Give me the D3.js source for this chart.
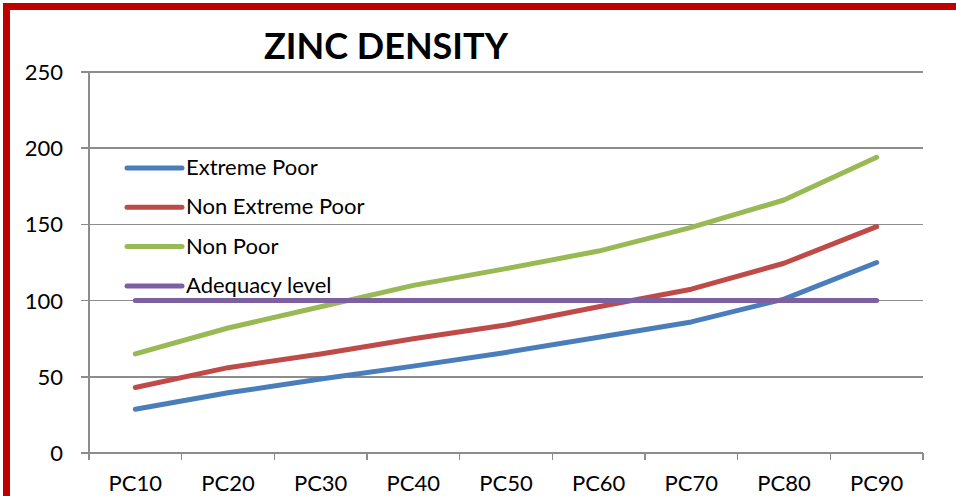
<!DOCTYPE html>
<html>
<head>
<meta charset="utf-8">
<title>Zinc Density</title>
<script src="https://cdn.jsdelivr.net/npm/d3@7"></script>
<style>
    body {
        margin: 0;
        background-color: #fff;
    }

    svg {
        display: block;
        font-family: Lato, "Open Sans", sans-serif;
    }

    .grid line {
        stroke: #8c8c8c;
        stroke-width: 1.5px;
        shape-rendering: crispEdges;
    }

    .serie {
        fill: none;
        stroke-width: 5px;
        stroke-linecap: round;
        stroke-linejoin: round;
    }

    .rotulo {
        font-size: 22px;
        fill: #000;
    }
</style>
</head>
<body>
<svg width="956" height="496"></svg>
<script>
    var categorias = ["PC10", "PC20", "PC30", "PC40", "PC50", "PC60", "PC70", "PC80", "PC90"];
    var extremePoor = [28.7, 39.5, 48.5, 57, 66, 76, 86, 101, 125];
    var nonExtremePoor = [43, 56, 65, 75, 84, 96, 107.5, 124.5, 148.5];
    var nonPoor = [65, 82, 96, 110, 121, 132.5, 148, 166, 194];
    var adequacy = [100, 100, 100, 100, 100, 100, 100, 100, 100];
    var ticksY = [0, 50, 100, 150, 200, 250];

    var series = [
        { nome: "Extreme Poor", cor: "#4a7ebb", valores: extremePoor },
        { nome: "Non Extreme Poor", cor: "#be4b48", valores: nonExtremePoor },
        { nome: "Non Poor", cor: "#98b954", valores: nonPoor },
        { nome: "Adequacy level", cor: "#7d60a0", valores: adequacy }
    ];

    var svg = d3.select("svg");

    // moldura vermelha
    svg.append("rect")
        .attr("x", 6.5).attr("y", 6.5)
        .attr("width", 990).attr("height", 540)
        .attr("fill", "none")
        .attr("stroke", "#c00000")
        .attr("stroke-width", 7);

    var x = d3.scaleBand().domain(categorias).range([89, 923]).padding(0);
    var y = d3.scaleLinear().domain([0, 250]).range([453, 72]);

    // linhas de grade
    svg.append("g")
        .attr("class", "grid")
        .selectAll("line")
        .data(ticksY)
        .enter().append("line")
        .attr("x1", 81).attr("x2", 923)
        .attr("y1", function (d) { return y(d); })
        .attr("y2", function (d) { return y(d); });

    // eixo y
    svg.append("line")
        .attr("x1", 89).attr("x2", 89)
        .attr("y1", y(250)).attr("y2", 460)
        .attr("stroke", "#8c8c8c").attr("stroke-width", 1.5)
        .style("shape-rendering", "crispEdges");

    svg.append("g")
        .selectAll("text")
        .data(ticksY)
        .enter().append("text")
        .attr("class", "rotulo")
        .attr("x", 63)
        .attr("y", function (d) { return y(d); })
        .attr("dy", "0.36em")
        .attr("text-anchor", "end")
        .text(function (d) { return d; });

    // marcas do eixo x
    var bordas = categorias.map(function (c) { return x(c); }).concat([x.range()[1]]);
    svg.append("g")
        .attr("class", "grid")
        .selectAll("line")
        .data(bordas)
        .enter().append("line")
        .attr("x1", function (d) { return d; })
        .attr("x2", function (d) { return d; })
        .attr("y1", y(0)).attr("y2", 460);

    svg.append("g")
        .selectAll("text")
        .data(categorias)
        .enter().append("text")
        .attr("class", "rotulo")
        .attr("x", function (d) { return x(d) + x.bandwidth() / 2; })
        .attr("y", 491)
        .attr("text-anchor", "middle")
        .text(function (d) { return d; });

    var linha = d3.line()
        .x(function (d, i) { return x(categorias[i]) + x.bandwidth() / 2; })
        .y(function (d) { return y(d); });

    svg.append("g")
        .selectAll("path")
        .data(series)
        .enter().append("path")
        .attr("class", "serie")
        .attr("stroke", function (d) { return d.cor; })
        .attr("d", function (d) { return linha(d.valores); });

    // legenda
    var legenda = svg.append("g")
        .selectAll("g")
        .data(series)
        .enter().append("g")
        .attr("transform", function (d, i) { return "translate(127," + (168 + i * 39.3) + ")"; });

    legenda.append("line")
        .attr("class", "serie")
        .attr("x1", 0).attr("x2", 55)
        .attr("stroke", function (d) { return d.cor; });

    legenda.append("text")
        .attr("class", "rotulo")
        .attr("x", 59)
        .attr("dy", 7)
        .text(function (d) { return d.nome; });

    svg.append("text")
        .attr("x", 386)
        .attr("y", 59)
        .attr("text-anchor", "middle")
        .style("font-size", "36px")
        .style("font-weight", "bold")
        .text("ZINC DENSITY");
</script>
</body>
</html>
